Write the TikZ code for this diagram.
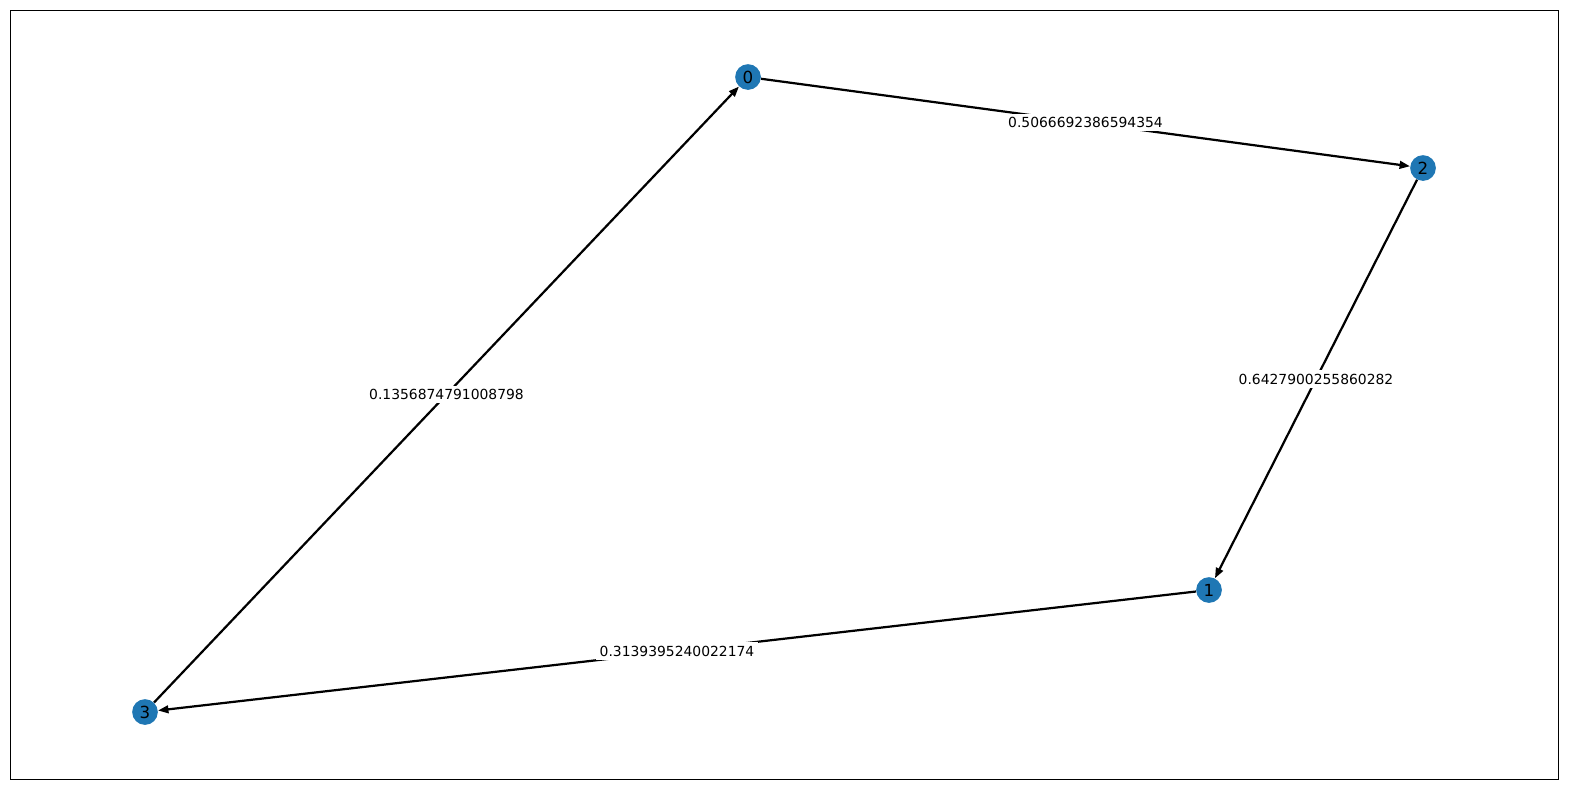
\documentclass[tikz,border=0pt]{standalone}
\usepackage{fontspec}
\setmainfont{DejaVu Sans}
\usetikzlibrary{arrows.meta}
\definecolor{nodeblue}{HTML}{1F77B4}

\begin{document}
\begin{tikzpicture}[x=0.72pt, y=-0.72pt,
  vertex/.style={circle, fill=nodeblue, minimum size=18.5pt, inner sep=0pt, font=\fontsize{12}{14}\selectfont},
  edge/.style={line width=1.6pt, -{Triangle[length=7.5pt,width=5.5pt]}},
  weight/.style={fill=white, inner sep=2.5pt, font=\fontsize{10}{12}\selectfont}]
\useasboundingbox (0,0) rectangle (1570,790);
\draw[line width=0.7pt] (10,10) rectangle (1558,779);

\node[vertex] (a) at (748,77) {0};
\node[vertex] (b) at (1423,168) {2};
\node[vertex] (c) at (1209,590) {1};
\node[vertex] (d) at (145,712) {3};

\path[draw,edge] (a) -- node[weight] {0.5066692386594354} (b);
\path[draw,edge] (b) -- node[weight] {0.6427900255860282} (c);
\path[draw,edge] (c) -- node[weight] {0.3139395240022174} (d);
\path[draw,edge] (d) -- node[weight] {0.1356874791008798} (a);
\end{tikzpicture}
\end{document}
